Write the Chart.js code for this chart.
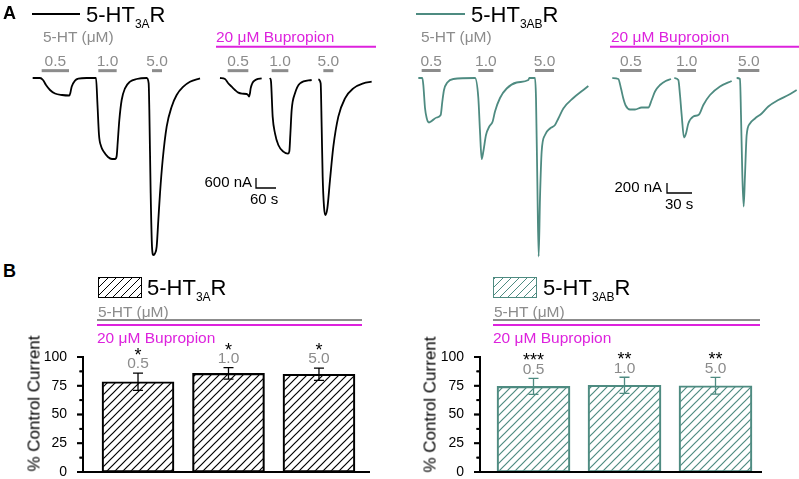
<!DOCTYPE html>
<html>
<head>
<meta charset="utf-8">
<script src="https://cdn.jsdelivr.net/npm/chart.js@4.4.1/dist/chart.umd.min.js"></script>
<style>
  body { margin: 0; background: #fff; }
  #fig { position: relative; width: 799px; height: 479px; overflow: hidden; font-family: "Liberation Sans", Arial, sans-serif; }
  canvas, .t, .ln, .box { position: absolute; }
  .t { line-height: 1; white-space: nowrap; }
  .pl { font-weight: bold; font-size: 18px; }
  .ttl { font-size: 22px; color: #000; }
  .sub { font-size: 12px; position: relative; top: 6px; }
  .gr { font-size: 15.5px; color: #8c8c8c; }
  .mg { font-size: 15.5px; color: #dd22dd; }
  .sc { font-size: 15px; color: #000; }
  .ytl { font-size: 17px; text-align: center; transform: rotate(-90deg); }
  .box { box-sizing: border-box; width: 44px; height: 21px; border: 1.5px solid #000; }
</style>
</head>
<body>
<div id="fig">
  <canvas id="traceA" width="400" height="260" style="left:0;top:0"></canvas>
  <canvas id="traceB" width="399" height="260" style="left:400px;top:0"></canvas>
  <canvas id="barA" width="400" height="149" style="left:0;top:330px"></canvas>
  <canvas id="barB" width="399" height="149" style="left:400px;top:330px"></canvas>

  <!-- panel A -->
  <div class="t pl" style="left:3px;top:4px">A</div>
  <div class="ln" style="left:32px;top:13px;width:48px;height:1.5px;background:#000"></div>
  <div class="t ttl" style="left:86px;top:4px">5-HT<span class="sub">3A</span>R</div>
  <div class="t gr" style="left:43px;top:29px">5-HT (μM)</div>
  <div class="t mg" style="left:216px;top:29px">20 μM Bupropion</div>
  <div class="t sc" style="left:192px;top:174px;width:60px;text-align:right">600 nA</div>
  <div class="t sc" style="left:250px;top:190.5px">60 s</div>

  <div class="ln" style="left:416px;top:13px;width:49px;height:1.5px;background:#4e8b81"></div>
  <div class="t ttl" style="left:471px;top:4px">5-HT<span class="sub">3AB</span>R</div>
  <div class="t gr" style="left:421px;top:29px">5-HT (μM)</div>
  <div class="t mg" style="left:611px;top:29px">20 μM Bupropion</div>
  <div class="t sc" style="left:602px;top:179px;width:60px;text-align:right">200 nA</div>
  <div class="t sc" style="left:665px;top:195.5px">30 s</div>

  <!-- panel B -->
  <div class="t pl" style="left:3px;top:262px">B</div>
  <div class="box" style="left:98px;top:277px;background:repeating-linear-gradient(135deg,#000 0 1.1px,transparent 1.1px 5.66px)"></div>
  <div class="t ttl" style="left:147px;top:277px">5-HT<span class="sub">3A</span>R</div>
  <div class="t gr" style="left:98px;top:304px">5-HT (μM)</div>
  <div class="ln" style="left:97px;top:319.3px;width:265px;height:2px;background:#8c8c8c"></div>
  <div class="ln" style="left:97px;top:324.3px;width:265px;height:2px;background:#dd22dd"></div>
  <div class="t mg" style="left:97px;top:330px">20 μM Bupropion</div>
  <div class="t ytl" style="left:-41px;top:394.5px;width:150px">% Control Current</div>

  <div class="box" style="left:493px;top:277px;border-color:#4e8b81;background:repeating-linear-gradient(135deg,#4e8b81 0 1.1px,transparent 1.1px 5.66px)"></div>
  <div class="t ttl" style="left:543px;top:277px">5-HT<span class="sub">3AB</span>R</div>
  <div class="t gr" style="left:494px;top:304px">5-HT (μM)</div>
  <div class="ln" style="left:493px;top:319.3px;width:267px;height:2px;background:#8c8c8c"></div>
  <div class="ln" style="left:493px;top:324.3px;width:267px;height:2px;background:#dd22dd"></div>
  <div class="t mg" style="left:493px;top:330px">20 μM Bupropion</div>
  <div class="t ytl" style="left:355px;top:395.5px;width:150px">% Control Current</div>
</div>

<script>
const FONT = '"Liberation Sans", Arial, sans-serif';
const TEAL = '#4e8b81';
const GREY = '#8c8c8c';
const MAGENTA = '#dd22dd';

const concLabels = ['0.5', '1.0', '5.0'];

// panel A traces, [time s, current nA]
// 5-HT3A control (0.5, 1.0, 5.0 uM in one sweep)
const ctrlA = [[8,0],[30,0],[39,-120],[48,-420],[60,-720],[75,-930],[96,-1020],[118,-1050],[121,-900],[125,-520],
  [135,-160],[145,-40],[170,0],[198,0],[202.5,-1620],[207,-3420],[213,-4080],[222,-4440],[234,-4740],[246,-4860],
  [255,-4860],[260,-4680],[263,-3900],[268,-2520],[275,-1320],[285,-620],[300,-220],[320,-60],[350,0],[356,-320],
  [358,-1920],[362,-6920],[366,-10120],[370,-10620],[375,-10520],[380,-10120],[385,-8520],[390,-6920],[398,-4920],
  [410,-2920],[425,-1720],[440,-1020],[460,-520],[480,-220],[510,-20]];
// 5-HT3A + bupropion
const bupA05 = [[570,0],[585,-60],[594,-300],[605,-520],[615,-720],[625,-880],[636,-940],[650,-960],[654,-1020],
  [657,-1110],[660,-900],[662,-620],[666,-360],[670,-220],[680,-80],[695,-20]];
const bupA10 = [[720,0],[723,-200],[728,-2320],[735,-3320],[745,-4020],[760,-4420],[774,-4540],[778,-4400],
  [781,-3400],[785,-1920],[795,-920],[810,-320],[845,-120]];
const bupA50 = [[865,-80],[872,-320],[875,-2920],[878,-5920],[882,-7720],[886,-8220],[892,-7820],[900,-6120],
  [910,-4120],[925,-2320],[945,-1220],[970,-620],[1000,-320],[1025,-220]];
// 5-HT application periods (s)
const appCtrlA = [[35,117],[205,260],[366,396]];
const appBupA = [[593,655],[725,775],[880,910]];
const bupPeriodA = [558, 1038];

// 5-HT3AB control
const ctrlB = [[10,0],[14.8,0],[16,-140],[18,-600],[20,-800],[22.8,-890],[26,-860],[32,-790],[36.8,-740],[38.8,-470],
  [40.8,-240],[44.8,-90],[52,-20],[78,0],[82,-400],[84,-1070],[86,-1620],[88,-1470],[91.2,-1140],[95.2,-970],
  [99.2,-870],[102,-670],[108,-400],[116,-210],[128,-90],[142,-40],[143.2,0],[150,0],[151.2,-400],[152.8,-2070],
  [154.4,-3570],[156,-2400],[158,-1470],[162,-1140],[168,-1010],[174,-940],[178,-810],[184,-610],[196,-400],
  [208,-240],[214,-160]];
// 5-HT3AB + bupropion
const bupB05 = [[242.8,0],[250,-20],[253.2,-210],[256,-410],[258.8,-550],[264,-630],[270,-630],[278,-590],
  [286,-590],[290,-440],[294,-270],[300,-140],[306.8,-60],[313.2,-20]];
const bupB10 = [[317.2,0],[322,-40],[324,-340],[326,-740],[328.8,-1190],[331.2,-1110],[334,-910],[340,-770],
  [346.8,-730],[352,-540],[360,-340],[372,-170],[386,-60]];
const bupB50 = [[392,0],[396,-20],[397.2,-740],[398.8,-1940],[400.4,-2570],[402,-1940],[404,-1140],[408,-910],
  [414,-810],[422,-710],[430,-570],[442,-440],[454,-340],[464,-240]];
const appCtrlB = [[14,36.8],[82,100],[150,172.8]];
const appBupB = [[252,278],[320.8,343.2],[394,419.2]];
const bupPeriodB = [240, 466.8];

// panel B, % control current (mean, sem)
const meanA = [78.5, 85.8, 85];
const semA = [7.5, 5, 5.4];
const starsA = ['*', '*', '*'];
const meanB = [74.5, 75.4, 75];
const semB = [7, 7, 7.2];
const starsB = ['***', '**', '**'];
const yTicks = [0, 25, 50, 75, 100];
const yMinorTicks = [12.5, 37.5, 62.5, 87.5];

Chart.defaults.font.family = FONT;

function pts(arr) {
  return arr.map(p => ({ x: p[0], y: p[1] }));
}

function traceChart(id, o) {
  const sets = [];
  o.traces.forEach(tr => sets.push({ data: pts(tr), borderColor: o.color, borderWidth: 1.8, cubicInterpolationMode: 'monotone' }));
  const apps = o.ctrlApps.concat(o.bupApps);
  apps.forEach(a => sets.push({ data: [{ x: a[0], y: o.appY }, { x: a[1], y: o.appY }], borderColor: GREY, borderWidth: 3 }));
  sets.push({ data: [{ x: o.bup[0], y: o.bupY }, { x: o.bup[1], y: o.bupY }], borderColor: MAGENTA, borderWidth: 2 });
  const s = o.scaleBar;
  sets.push({ data: [{ x: s.t, y: s.i + s.di }, { x: s.t, y: s.i }, { x: s.t + s.dt, y: s.i }], borderColor: '#000', borderWidth: 1.3 });

  // concentration labels over the application bars
  const concPlugin = {
    id: 'conc',
    afterDraw(chart) {
      const { ctx, scales: { x, y } } = chart;
      ctx.save();
      ctx.font = '15.5px ' + FONT;
      ctx.fillStyle = GREY;
      ctx.textAlign = 'center';
      ctx.textBaseline = 'middle';
      apps.forEach((a, k) => {
        ctx.fillText(concLabels[k % 3], x.getPixelForValue((a[0] + a[1]) / 2), y.getPixelForValue(o.appY) - 9);
      });
      ctx.restore();
    }
  };

  new Chart(document.getElementById(id), {
    type: 'line',
    data: { datasets: sets },
    options: {
      animation: false,
      responsive: false,
      layout: { padding: 0 },
      elements: { point: { radius: 0 }, line: { fill: false } },
      plugins: { legend: { display: false }, tooltip: { enabled: false } },
      scales: {
        x: { type: 'linear', display: false, min: o.xr[0], max: o.xr[1] },
        y: { display: false, min: o.yr[0], max: o.yr[1] }
      }
    },
    plugins: [concPlugin]
  });
}

function hatch(color) {
  const c = document.createElement('canvas');
  c.width = 8; c.height = 8;
  const g = c.getContext('2d');
  g.strokeStyle = color;
  g.lineWidth = 1.2;
  g.beginPath();
  g.moveTo(0, 8); g.lineTo(8, 0);
  g.moveTo(-2, 2); g.lineTo(2, -2);
  g.moveTo(6, 10); g.lineTo(10, 6);
  g.stroke();
  return g.createPattern(c, 'repeat');
}

function barChart(id, o) {
  const x0 = o.xr[0], x1 = o.xr[1];
  const unit = (x1 - x0) / o.plotW;   // data units per pixel along x
  const axisLine = (data) => ({ type: 'line', data, borderColor: '#000', borderWidth: 2, pointRadius: 0, clip: false, order: 0 });
  const sets = [{
    type: 'bar',
    data: o.mean.map((v, i) => ({ x: i + 1, y: v })),
    backgroundColor: hatch(o.color),
    borderColor: o.color,
    borderWidth: 1.5,
    borderSkipped: false,
    barThickness: o.barW,
    order: 1
  }];
  // axes as line datasets on the same scales
  sets.push(axisLine([{ x: x0, y: 100 }, { x: x0, y: 0 }, { x: x1, y: 0 }]));
  yTicks.forEach(v => sets.push(axisLine([{ x: x0 - 6 * unit, y: v }, { x: x0, y: v }])));
  yMinorTicks.forEach(v => sets.push(axisLine([{ x: x0 - 3.5 * unit, y: v }, { x: x0, y: v }])));

  const errPlugin = {
    id: 'err',
    afterDraw(chart) {
      const { ctx, chartArea: ca, scales: { x, y } } = chart;
      ctx.save();
      // axis lines again, filled, in case the line datasets are clipped
      const top = y.getPixelForValue(100);
      ctx.fillStyle = '#000';
      ctx.fillRect(ca.left - 1, top - 1, 2, ca.bottom - top + 2);
      ctx.fillRect(ca.left - 1, ca.bottom - 1, ca.right - ca.left + 1, 2);
      yTicks.forEach(v => ctx.fillRect(ca.left - 6, y.getPixelForValue(v) - 0.75, 6, 1.5));
      yMinorTicks.forEach(v => ctx.fillRect(ca.left - 3.5, y.getPixelForValue(v) - 0.75, 3.5, 1.5));
      o.mean.forEach((m, i) => {
        const px = x.getPixelForValue(i + 1);
        const hi = y.getPixelForValue(m + o.sem[i]);
        const lo = y.getPixelForValue(m - o.sem[i]);
        ctx.strokeStyle = o.color;
        ctx.lineWidth = 1.3;
        ctx.beginPath();
        ctx.moveTo(px, hi); ctx.lineTo(px, lo);
        ctx.moveTo(px - 5, hi); ctx.lineTo(px + 5, hi);
        ctx.moveTo(px - 5, lo); ctx.lineTo(px + 5, lo);
        ctx.stroke();
        ctx.textAlign = 'center';
        ctx.textBaseline = 'middle';
        ctx.fillStyle = GREY;
        ctx.font = '15.5px ' + FONT;
        ctx.fillText(concLabels[i], px, hi - 9);
        ctx.textBaseline = 'alphabetic';
        ctx.fillStyle = '#000';
        ctx.font = '18px ' + FONT;
        ctx.fillText(o.stars[i], px, hi - 12);
      });
      ctx.restore();
    }
  };

  new Chart(document.getElementById(id), {
    type: 'bar',
    data: { datasets: sets },
    options: {
      animation: false,
      responsive: false,
      layout: { padding: { top: 27, bottom: 7, left: 0, right: o.padRight } },
      plugins: { legend: { display: false }, tooltip: { enabled: false } },
      scales: {
        x: {
          type: 'linear', min: x0, max: x1, offset: false,
          grid: { display: false }, ticks: { display: false }, border: { display: false },
          afterFit(s) { s.height = 0; }
        },
        y: {
          min: 0, max: 100,
          ticks: { stepSize: 25, color: '#000', font: { size: 14 }, padding: 8 },
          grid: { display: false }, border: { display: false },
          afterFit(s) { s.width = o.axisW; s.paddingTop = 0; s.paddingBottom = 0; }
        }
      }
    },
    plugins: [errPlugin]
  });
}

traceChart('traceA', {
  traces: [ctrlA, bupA05, bupA10, bupA50], color: '#000',
  ctrlApps: appCtrlA, bupApps: appBupA, appY: 440,
  bup: bupPeriodA, bupY: 1878,
  scaleBar: { t: 678, i: -6600, dt: 60, di: 600 },
  xr: [-90, 1110], yr: [-10920, 4680]
});
traceChart('traceB', {
  traces: [ctrlB, bupB05, bupB10, bupB50], color: TEAL,
  ctrlApps: appCtrlB, bupApps: appBupB, appY: 150,
  bup: bupPeriodB, bupY: 626,
  scaleBar: { t: 308.4, i: -2300, dt: 30, di: 200 },
  xr: [-12, 466.8], yr: [-3640, 1560]
});

barChart('barA', { mean: meanA, sem: semA, stars: starsA, color: '#000', axisW: 83, padRight: 30, plotW: 287, barW: 72, xr: [0.392, 3.564] });
barChart('barB', { mean: meanB, sem: semB, stars: starsB, color: TEAL, axisW: 80, padRight: 37, plotW: 282, barW: 73, xr: [0.412, 3.511] });
</script>
</body>
</html>
